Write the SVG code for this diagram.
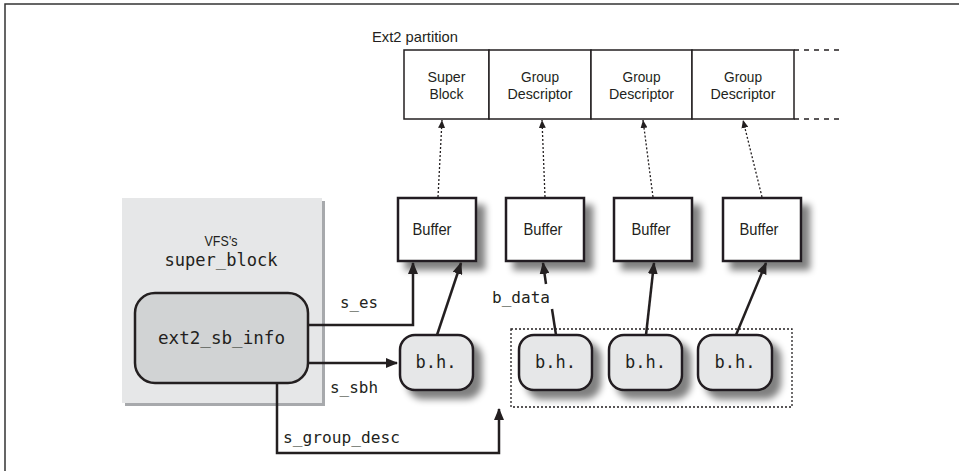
<svg xmlns="http://www.w3.org/2000/svg" width="959" height="471" viewBox="0 0 959 471">
<style>
.lbl{font-family:"Liberation Sans",Arial,sans-serif;font-size:17px;fill:#231f20}
.pt{font-family:"Liberation Sans",Arial,sans-serif;font-size:15px;fill:#231f20}
.mono{font-family:"DejaVu Sans Mono","Liberation Mono",monospace;font-size:16px;fill:#231f20}
.mono17{font-family:"DejaVu Sans Mono","Liberation Mono",monospace;font-size:17px;fill:#231f20}
.part{fill:#fff;stroke:#231f20;stroke-width:1.5}
.buf{fill:#fff;stroke:#231f20;stroke-width:2.5}
.bh{fill:#e6e7e8;stroke:#231f20;stroke-width:2.5}
.conn{fill:none;stroke:#231f20;stroke-width:2.5}
.dot{fill:none;stroke:#231f20;stroke-width:1.3;stroke-dasharray:2 2}
</style>
<defs>
<filter id="sh" x="-20%" y="-20%" width="150%" height="150%">
<feGaussianBlur in="SourceAlpha" stdDeviation="3.5"/>
<feOffset dx="8" dy="8" result="b"/>
<feComponentTransfer><feFuncA type="linear" slope="0.5"/></feComponentTransfer>
<feMerge><feMergeNode/><feMergeNode in="SourceGraphic"/></feMerge>
</filter>
<marker id="ah" markerWidth="12" markerHeight="10" refX="11" refY="5" orient="auto" markerUnits="userSpaceOnUse">
<path d="M0,0 L12,5 L0,10 z" fill="#231f20"/>
</marker>
<marker id="ahs" markerWidth="8" markerHeight="7" refX="8" refY="3.5" orient="auto" markerUnits="userSpaceOnUse">
<path d="M0,0 L8,3.5 L0,7 z" fill="#231f20"/>
</marker>
</defs>
<!-- frame -->
<path d="M5,471 L5,4 L959,4" fill="none" stroke="#333" stroke-width="1.5"/>

<!-- partition -->
<g id="partition">
<text class="pt" x="372" y="42" textLength="86" lengthAdjust="spacingAndGlyphs">Ext2 partition</text>
<path d="M794,50 L843,50 M794,119 L843,119" stroke="#231f20" stroke-width="1.3" stroke-dasharray="5 5" fill="none"/>
</g>
<g id="superblock">
<rect class="part" x="404" y="50" width="85" height="69"/>
<text class="pt" x="446.5" y="82" text-anchor="middle" textLength="38" lengthAdjust="spacingAndGlyphs">Super</text>
<text class="pt" x="446.5" y="99" text-anchor="middle" textLength="34" lengthAdjust="spacingAndGlyphs">Block</text>
</g>
<g id="gd1">
<rect class="part" x="489" y="50" width="102" height="69"/>
<text class="pt" x="540" y="82" text-anchor="middle" textLength="38" lengthAdjust="spacingAndGlyphs">Group</text>
<text class="pt" x="540" y="99" text-anchor="middle" textLength="65" lengthAdjust="spacingAndGlyphs">Descriptor</text>
</g>
<g id="gd2">
<rect class="part" x="591" y="50" width="101" height="69"/>
<text class="pt" x="641.5" y="82" text-anchor="middle" textLength="38" lengthAdjust="spacingAndGlyphs">Group</text>
<text class="pt" x="641.5" y="99" text-anchor="middle" textLength="65" lengthAdjust="spacingAndGlyphs">Descriptor</text>
</g>
<g id="gd3">
<rect class="part" x="692" y="50" width="102" height="69"/>
<text class="pt" x="743" y="82" text-anchor="middle" textLength="38" lengthAdjust="spacingAndGlyphs">Group</text>
<text class="pt" x="743" y="99" text-anchor="middle" textLength="65" lengthAdjust="spacingAndGlyphs">Descriptor</text>
</g>

<!-- VFS super block -->
<g id="vfs">
<rect x="125" y="201" width="200" height="205" fill="#a7a9ac"/>
<rect x="122" y="198" width="200" height="205" fill="#e6e7e8"/>
<text class="pt" x="221" y="246" text-anchor="middle" textLength="33" lengthAdjust="spacingAndGlyphs">VFS’s</text>
<text class="mono17" x="221" y="266" text-anchor="middle" textLength="113" lengthAdjust="spacingAndGlyphs">super_block</text>
</g>
<g id="ext2sb">
<rect x="135" y="293" width="173" height="90" rx="20" ry="20" fill="#d1d3d4" stroke="#231f20" stroke-width="2.5"/>
<text class="mono17" x="221.5" y="344" text-anchor="middle" textLength="127" lengthAdjust="spacingAndGlyphs">ext2_sb_info</text>
</g>

<!-- buffers -->
<g id="buf1"><rect class="buf" x="398" y="198" width="78" height="63" filter="url(#sh)"/><text class="lbl" x="432" y="235" text-anchor="middle" textLength="39" lengthAdjust="spacingAndGlyphs">Buffer</text></g>
<g id="buf2"><rect class="buf" x="506" y="198" width="78" height="63" filter="url(#sh)"/><text class="lbl" x="543" y="235" text-anchor="middle" textLength="39" lengthAdjust="spacingAndGlyphs">Buffer</text></g>
<g id="buf3"><rect class="buf" x="614" y="198" width="78" height="63" filter="url(#sh)"/><text class="lbl" x="651" y="235" text-anchor="middle" textLength="39" lengthAdjust="spacingAndGlyphs">Buffer</text></g>
<g id="buf4"><rect class="buf" x="723" y="198" width="78" height="63" filter="url(#sh)"/><text class="lbl" x="759" y="235" text-anchor="middle" textLength="39" lengthAdjust="spacingAndGlyphs">Buffer</text></g>

<!-- buffer heads -->
<g id="bh0"><rect class="bh" x="400" y="335" width="73" height="55" rx="15" ry="15" filter="url(#sh)"/><text class="mono17" x="436" y="368" text-anchor="middle" textLength="41" lengthAdjust="spacingAndGlyphs">b.h.</text></g>
<g id="bhgroup">
<rect x="511" y="329" width="281" height="78" fill="none" stroke="#231f20" stroke-width="1.3" stroke-dasharray="2 2"/>
</g>
<g id="bh1"><rect class="bh" x="519" y="335" width="73" height="55" rx="15" ry="15" filter="url(#sh)"/><text class="mono17" x="555.5" y="368" text-anchor="middle" textLength="41" lengthAdjust="spacingAndGlyphs">b.h.</text></g>
<g id="bh2"><rect class="bh" x="609" y="335" width="73" height="55" rx="15" ry="15" filter="url(#sh)"/><text class="mono17" x="645.5" y="368" text-anchor="middle" textLength="41" lengthAdjust="spacingAndGlyphs">b.h.</text></g>
<g id="bh3"><rect class="bh" x="698" y="335" width="74" height="55" rx="15" ry="15" filter="url(#sh)"/><text class="mono17" x="735" y="368" text-anchor="middle" textLength="41" lengthAdjust="spacingAndGlyphs">b.h.</text></g>

<!-- connectors -->
<g id="connectors">
<line class="dot" x1="438" y1="197" x2="442" y2="120" marker-end="url(#ahs)"/>
<line class="dot" x1="545" y1="197" x2="542" y2="120" marker-end="url(#ahs)"/>
<line class="dot" x1="653" y1="197" x2="643" y2="120" marker-end="url(#ahs)"/>
<line class="dot" x1="762" y1="197" x2="743" y2="120" marker-end="url(#ahs)"/>

<path class="conn" d="M308,325 L413,325 L413,263" marker-end="url(#ah)"/>
<path class="conn" d="M308,363 L397,363" marker-end="url(#ah)"/>
<path class="conn" d="M277,383 L277,453 L499,453 L499,409" marker-end="url(#ah)"/>

<line class="conn" x1="437" y1="335" x2="461" y2="263" marker-end="url(#ah)"/>
<line class="conn" x1="556" y1="335" x2="552" y2="309"/>
<line class="conn" x1="546" y1="284" x2="543" y2="263" marker-end="url(#ah)"/>
<line class="conn" x1="646" y1="335" x2="654" y2="263" marker-end="url(#ah)"/>
<line class="conn" x1="736" y1="335" x2="766" y2="263" marker-end="url(#ah)"/>

<text class="mono" x="340" y="308" textLength="38" lengthAdjust="spacingAndGlyphs">s_es</text>
<text class="mono" x="330" y="393" textLength="48" lengthAdjust="spacingAndGlyphs">s_sbh</text>
<text class="mono" x="283" y="443" textLength="117" lengthAdjust="spacingAndGlyphs">s_group_desc</text>
<text class="mono" x="492" y="303" textLength="58" lengthAdjust="spacingAndGlyphs">b_data</text>
</g>
</svg>
